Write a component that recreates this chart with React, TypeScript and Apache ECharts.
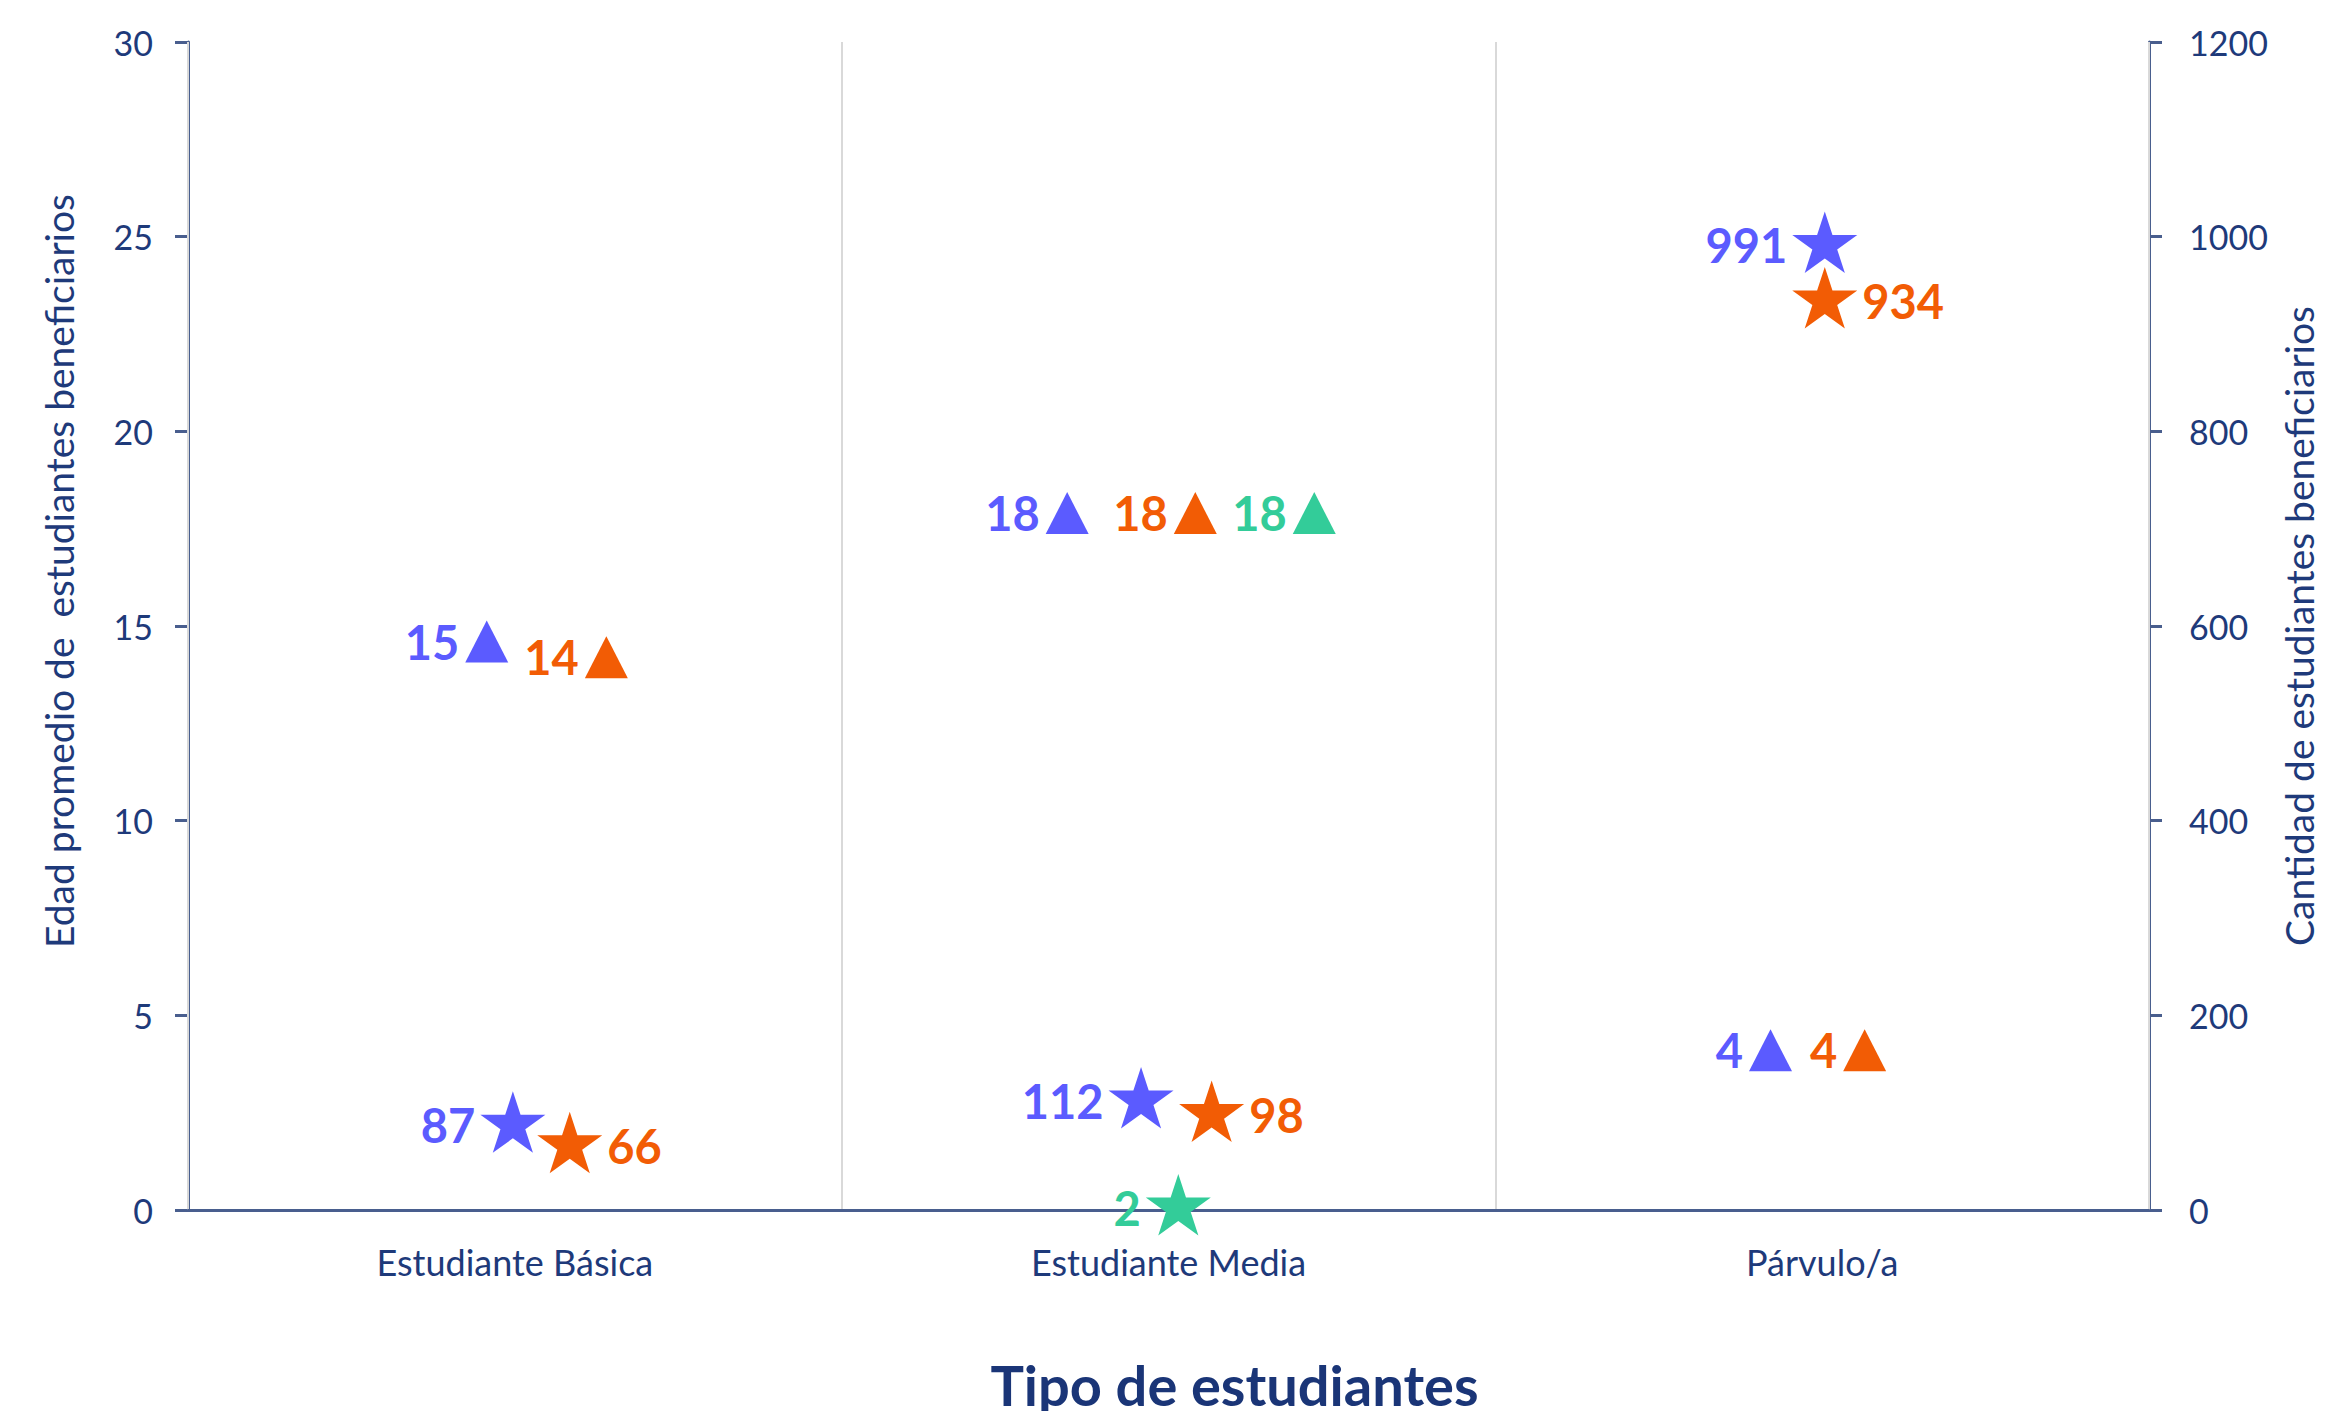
import React, { useEffect, useRef } from "react";
import * as echarts from "echarts";

// ---- Data ----
const categories = ["Estudiante Básica", "Estudiante Media", "Párvulo/a"];

// Average age (left axis) – triangles
const ageBlue = [14.6, 17.9, 4.1];
const ageOrange = [14.2, 17.9, 4.1];
const ageGreen: (number | null)[] = [null, 17.9, null];

// Number of beneficiary students (right axis) – stars
const countBlue = [87, 112, 991];
const countOrange = [66, 98, 934];
const countGreen: (number | null)[] = [null, 2, null];

const leftTicks = [0, 5, 10, 15, 20, 25, 30];
const rightTicks = [0, 200, 400, 600, 800, 1000, 1200];

// horizontal placement inside each category (fraction of category width)
const jitterAgeBlue = [-0.043, -0.155, -0.079];
const jitterAgeOrange = [0.14, 0.041, 0.065];
const jitterAgeGreen = [0, 0.223, 0];
const jitterCountBlue = [-0.003, -0.042, 0.004];
const jitterCountOrange = [0.084, 0.066, 0.004];
const jitterCountGreen = [0, 0.015, 0];

const BLUE = "#5B5BFF";
const ORANGE = "#F25C05";
const GREEN = "#33CC99";
const AXIS = "#495E8E";
const TEXT = "#1E3A7A";
const FONT = "Lato";

const STAR =
  "path://M50 0 L61.23 34.55 L97.55 34.55 L68.16 55.9 L79.39 90.45 L50 69.1 L20.61 90.45 L31.84 55.9 L2.45 34.55 L38.77 34.55 Z M50 100 L50.01 100 Z";

function pts(vals: (number | null)[], jit: number[]) {
  const out: any[] = [];
  vals.forEach((v, i) => {
    if (v !== null && v !== undefined) out.push([i + 0.5 + jit[i], v]);
  });
  return out;
}

function triSeries(name: string, vals: (number | null)[], jit: number[], color: string) {
  return {
    name,
    type: "scatter",
    xAxisIndex: 1,
    yAxisIndex: 0,
    symbol: "triangle",
    symbolSize: [43, 42],
    itemStyle: { color, opacity: 1 },
    data: pts(vals, jit),
    z: 5,
    label: {
      show: true,
      position: "left",
      distance: 6,
      color,
      fontFamily: FONT,
      fontWeight: "bold",
      fontSize: 47,
      formatter: (p: any) => String(Math.round(p.value[1])),
    },
  };
}

function starSeries(
  name: string,
  vals: (number | null)[],
  jit: number[],
  color: string,
  pos: string
) {
  return {
    name,
    type: "scatter",
    xAxisIndex: 1,
    yAxisIndex: 1,
    symbol: STAR,
    symbolSize: [65, 68],
    itemStyle: { color, opacity: 1 },
    data: pts(vals, jit),
    z: 5,
    label: {
      show: true,
      position: pos,
      distance: 5,
      color,
      fontFamily: FONT,
      fontWeight: "bold",
      fontSize: 47,
      formatter: (p: any) => String(p.value[1]),
    },
  };
}

export default function App() {
  const ref = useRef<HTMLDivElement>(null);
  useEffect(() => {
    if (!ref.current) return;
    const chart = echarts.init(ref.current, null, { renderer: "svg" });
    chart.setOption({
      animation: false,
      backgroundColor: "#ffffff",
      textStyle: { fontFamily: FONT },
      grid: {
        left: 188,
        right: 177,
        top: 42,
        bottom: 201,
        containLabel: false,
        outerBoundsMode: "none",
      },
      xAxis: [
        {
          type: "category",
          data: categories,
          boundaryGap: true,
          position: "bottom",
          axisLine: { show: true, lineStyle: { color: AXIS, width: 3 } },
          axisTick: { show: false },
          axisLabel: { color: TEXT, fontFamily: FONT, fontSize: 36, margin: 34 },
          splitLine: { show: true, lineStyle: { color: "#D9D9D9", width: 2 } },
          name: "Tipo de estudiantes",
          nameLocation: "middle",
          nameGap: 146,
          nameTextStyle: {
            color: "#1A3577",
            fontFamily: FONT,
            fontWeight: "bold",
            fontSize: 56,
            padding: [0, 0, 0, 132],
          },
          z: 3,
        },
        { type: "value", min: 0, max: 3, show: false },
      ],
      yAxis: [
        {
          type: "value",
          position: "left",
          min: leftTicks[0],
          max: leftTicks[leftTicks.length - 1],
          interval: 5,
          axisLine: { show: true, lineStyle: { color: AXIS, width: 3 } },
          axisTick: { show: true, inside: false, length: 13, lineStyle: { color: AXIS, width: 3 } },
          axisLabel: { color: TEXT, fontFamily: FONT, fontSize: 34, margin: 35 },
          splitLine: { show: false },
          name: "Edad promedio de  estudiantes beneficiarios",
          nameLocation: "middle",
          nameRotate: 90,
          nameGap: 110,
          nameTextStyle: { color: TEXT, fontFamily: FONT, fontSize: 39, padding: [0, 0, 0, 110] },
        },
        {
          type: "value",
          position: "right",
          min: rightTicks[0],
          max: rightTicks[rightTicks.length - 1],
          interval: 200,
          axisLine: { show: true, lineStyle: { color: AXIS, width: 3 } },
          axisTick: { show: true, inside: false, length: 13, lineStyle: { color: AXIS, width: 3 } },
          axisLabel: {
            color: TEXT,
            fontFamily: FONT,
            fontSize: 34,
            margin: 40,
            formatter: (v: number) => String(v),
          },
          splitLine: { show: false },
          name: "Cantidad de estudiantes beneficiarios",
          nameLocation: "middle",
          nameRotate: 90,
          nameGap: 130,
          nameTextStyle: { color: TEXT, fontFamily: FONT, fontSize: 39 },
        },
      ],
      series: [
        triSeries("Edad - Grupo 1", ageBlue, jitterAgeBlue, BLUE),
        triSeries("Edad - Grupo 2", ageOrange, jitterAgeOrange, ORANGE),
        triSeries("Edad - Grupo 3", ageGreen, jitterAgeGreen, GREEN),
        starSeries("Cantidad - Grupo 1", countBlue, jitterCountBlue, BLUE, "left"),
        starSeries("Cantidad - Grupo 2", countOrange, jitterCountOrange, ORANGE, "right"),
        starSeries("Cantidad - Grupo 3", countGreen, jitterCountGreen, GREEN, "left"),
      ],
    });
    return () => chart.dispose();
  }, []);
  return (
    <div
      ref={ref}
      style={{ position: "fixed", left: 0, top: 0, width: 2326, height: 1411, background: "#fff" }}
    />
  );
}
